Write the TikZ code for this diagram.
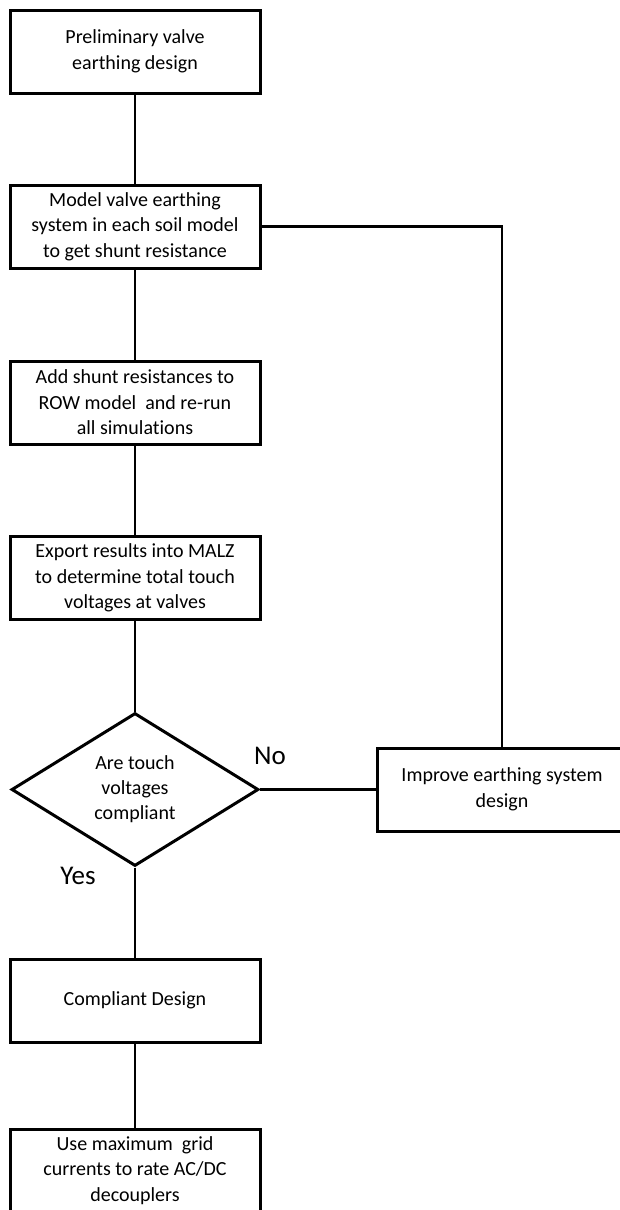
\documentclass[tikz,border=0pt]{standalone}
\usepackage{fontspec}
\setmainfont{Carlito}[Ligatures=NoCommon]
\usetikzlibrary{shapes.geometric}
\tikzset{
  stage/.style={draw,line width=3pt,minimum width=250pt,minimum height=83pt,inner sep=0pt,align=center,font=\fontsize{20}{25.5}\selectfont},
  query/.style={draw,diamond,line width=3pt,aspect=1.6,minimum width=247pt,minimum height=153pt,inner sep=0pt,align=center,font=\fontsize{20}{25}\selectfont},
  link/.style={line width=2.4pt},
  answer/.style={font=\fontsize{27}{30}\selectfont}
}
\begin{document}
\begin{tikzpicture}[x=1pt,y=-1pt]
    \useasboundingbox (0,0) rectangle (620,1210);
    \node [stage] (prelim) at (135,51.5) {Preliminary valve\\earthing design};
    \node [stage] (soil) at (135,226.5) {Model valve earthing\\system in each soil model\\to get shunt resistance};
    \node [stage] (row) at (135,402.5) {Add shunt resistances to\\ROW model\ \ and re-run\\all simulations};
    \node [stage] (malz) at (135,578) {Export results into MALZ\\to determine total touch\\voltages at valves};
    \node [query] (check) at (135,789.5) {Are touch\\voltages\\compliant};
    \node [stage] (improve) at (502,789.5) {Improve earthing system\\design};
    \node [stage] (ok) at (135,1000.5) {Compliant Design};
    \node [stage] (rate) at (135,1170.5) {Use maximum\ \ grid\\currents to rate AC/DC\\decouplers};
    \node [answer] (no) at (270,756) {No};
    \node [answer] (yes) at (78,876) {Yes};
    \draw [link] (prelim) -- (soil);
    \draw [link] (soil) -- (row);
    \draw [link] (row) -- (malz);
    \draw [link] (malz) -- (check);
    \draw [link] (check) -- (ok);
    \draw [link] (ok) -- (rate);
    \draw [link] (check.east) -- (improve.west);
    \draw [link] (soil.east) -| (improve.north);
\end{tikzpicture}
\end{document}
